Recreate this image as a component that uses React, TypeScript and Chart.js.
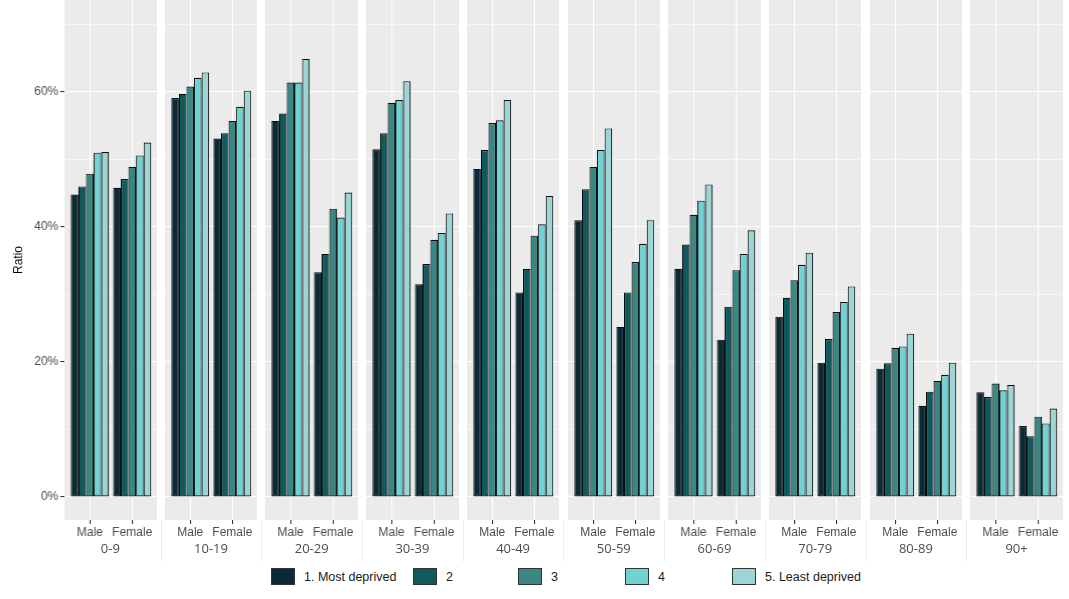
import { useEffect, useRef } from 'react'
import Chart from 'chart.js/auto'

const ageGroups = ['0-9', '10-19', '20-29', '30-39', '40-49', '50-59', '60-69', '70-79', '80-89', '90+']
const sexes = ['Male', 'Female']
const deprivation = ['1. Most deprived', '2', '3', '4', '5. Least deprived']
const colours = ['#0a2b35', '#105a5e', '#3a8783', '#6fd3d4', '#9dd5d6']

// ratio (%) by age group, one array per deprivation quintile and sex
const q1Male = [44.8, 59.1, 55.7, 51.5, 48.6, 41.0, 33.8, 26.7, 19.0, 15.5]
const q2Male = [46.0, 59.7, 56.8, 53.9, 51.4, 45.6, 37.4, 29.5, 19.8, 14.8]
const q3Male = [47.9, 60.8, 61.4, 58.4, 55.4, 48.9, 41.8, 32.1, 22.1, 16.8]
const q4Male = [51.0, 62.1, 61.4, 58.8, 55.8, 51.4, 43.9, 34.4, 22.3, 15.8]
const q5Male = [51.1, 62.9, 64.9, 61.6, 58.8, 54.6, 46.3, 36.2, 24.2, 16.6]
const q1Female = [45.8, 53.1, 33.3, 31.5, 30.3, 25.2, 23.3, 19.9, 13.5, 10.5]
const q2Female = [47.1, 53.9, 36.0, 34.5, 33.8, 30.3, 28.2, 23.4, 15.6, 9.0]
const q3Female = [48.9, 55.7, 42.7, 38.1, 38.7, 34.8, 33.6, 27.4, 17.2, 11.9]
const q4Female = [50.6, 57.8, 41.4, 39.1, 40.4, 37.5, 36.0, 28.9, 18.1, 10.9]
const q5Female = [52.5, 60.2, 45.1, 42.0, 44.6, 41.0, 39.5, 31.2, 19.9, 13.1]

const maleByQuintile = [q1Male, q2Male, q3Male, q4Male, q5Male]
const femaleByQuintile = [q1Female, q2Female, q3Female, q4Female, q5Female]

const yTicks = [0, 10, 20, 30, 40, 50, 60, 70]

const Y_AXIS_W = 64
const PANEL_W = 92.6
const PANEL_STEP = 100.7
const PLOT_H = 520
const FONT = "'Liberation Sans', Arial, sans-serif"

const panelBg = {
  id: 'panelBg',
  beforeDraw(chart: Chart) {
    const { ctx, chartArea } = chart
    ctx.save()
    ctx.fillStyle = '#ebebeb'
    ctx.fillRect(chartArea.left, chartArea.top, chartArea.right - chartArea.left, chartArea.bottom - chartArea.top)
    ctx.restore()
  },
}

function Facet({ index }: { index: number }) {
  const canvasRef = useRef<HTMLCanvasElement>(null)
  const first = index === 0

  useEffect(() => {
    if (!canvasRef.current) return
    const chart = new Chart(canvasRef.current, {
      type: 'bar',
      data: {
        datasets: deprivation.map((label, q) => ({
          label,
          data: [
            { x: 0, y: maleByQuintile[q][index] },
            { x: 1, y: femaleByQuintile[q][index] },
          ],
          backgroundColor: colours[q],
          borderColor: '#0d0d0d',
          borderWidth: 1.1,
          borderSkipped: false,
          categoryPercentage: 0.9,
          barPercentage: 1,
        })),
      },
      options: {
        animation: false,
        responsive: true,
        maintainAspectRatio: false,
        layout: { padding: 0 },
        plugins: { legend: { display: false }, tooltip: { enabled: false } },
        scales: {
          x: {
            type: 'linear',
            min: -0.6,
            max: 1.6,
            offset: false,
            afterBuildTicks: s => { s.ticks = [{ value: 0 }, { value: 1 }] },
            afterFit: s => {
              s.height = 20
              s.paddingLeft = 0
              s.paddingRight = 0
            },
            border: { display: false },
            grid: { offset: false, color: '#ffffff', lineWidth: 1.1, tickColor: '#333333', tickLength: 4 },
            ticks: {
              padding: 1,
              color: '#4d4d4d',
              font: { family: FONT, size: 12 },
              maxRotation: 0,
              callback: v => sexes[Number(v)] ?? '',
            },
          },
          y: {
            min: -3.41,
            max: 73.63,
            afterBuildTicks: s => { s.ticks = yTicks.map(value => ({ value })) },
            afterFit: s => {
              s.width = first ? Y_AXIS_W : 0
              s.paddingTop = 0
              s.paddingBottom = 0
            },
            border: { display: false },
            grid: {
              color: '#ffffff',
              lineWidth: c => (c.tick && c.tick.value % 20 === 0 ? 1.1 : 0.55),
              drawTicks: first,
              tickLength: 4,
              tickColor: c => (c.tick && c.tick.value % 20 === 0 ? '#333333' : 'rgba(0,0,0,0)'),
            },
            title: {
              display: first,
              text: 'Ratio',
              color: '#000000',
              font: { family: FONT, size: 12 },
              padding: { top: 11, bottom: 4 },
            },
            ticks: {
              display: first,
              padding: 2,
              color: '#4d4d4d',
              font: { family: FONT, size: 12 },
              callback: v => (Number(v) % 20 === 0 ? `${v}%` : ''),
            },
          },
        },
      },
      plugins: [panelBg],
    })
    return () => chart.destroy()
  }, [index, first])

  const left = first ? 0 : Y_AXIS_W + index * PANEL_STEP
  const width = first ? Y_AXIS_W + PANEL_W : PANEL_W
  return (
    <div style={{ position: 'absolute', left, top: 0, width, height: PLOT_H + 20 }}>
      <canvas ref={canvasRef} />
    </div>
  )
}

const legendWidths = [142, 105, 107, 107, 140]

export default function App() {
  return (
    <div style={{ position: 'absolute', left: 0, top: 0, width: 1069, height: 599, background: '#ffffff', overflow: 'hidden' }}>
      {ageGroups.map((g, i) => (
        <Facet key={g} index={i} />
      ))}

      {/* strip separators */}
      {ageGroups.slice(1).map((g, i) => (
        <div
          key={`sep-${g}`}
          style={{
            position: 'absolute',
            left: Y_AXIS_W + (i + 1) * PANEL_STEP - (PANEL_STEP - PANEL_W) / 2,
            top: PLOT_H,
            width: 1,
            height: 42,
            background: '#ededed',
          }}
        />
      ))}

      {/* facet strips (bottom) */}
      {ageGroups.map((g, i) => (
        <div
          key={`strip-${g}`}
          style={{
            position: 'absolute',
            left: Y_AXIS_W + i * PANEL_STEP,
            top: 538,
            width: PANEL_W,
            height: 20,
            lineHeight: '20px',
            textAlign: 'center',
            fontFamily: "'Open Sans', sans-serif",
            fontSize: 13,
            color: '#4d4d4d',
          }}
        >
          {g}
        </div>
      ))}

      {/* legend */}
      <div style={{ position: 'absolute', left: 271, top: 568, height: 17, display: 'flex', fontFamily: FONT, fontSize: 12.5, color: '#1a1a1a' }}>
        {deprivation.map((label, q) => (
          <div key={label} style={{ width: legendWidths[q], display: 'flex', alignItems: 'center', height: 17 }}>
            <div style={{ width: 24, height: 17, boxSizing: 'border-box', background: colours[q], border: '1.5px solid #333333' }} />
            <span style={{ marginLeft: 9, whiteSpace: 'nowrap' }}>{label}</span>
          </div>
        ))}
      </div>
    </div>
  )
}
